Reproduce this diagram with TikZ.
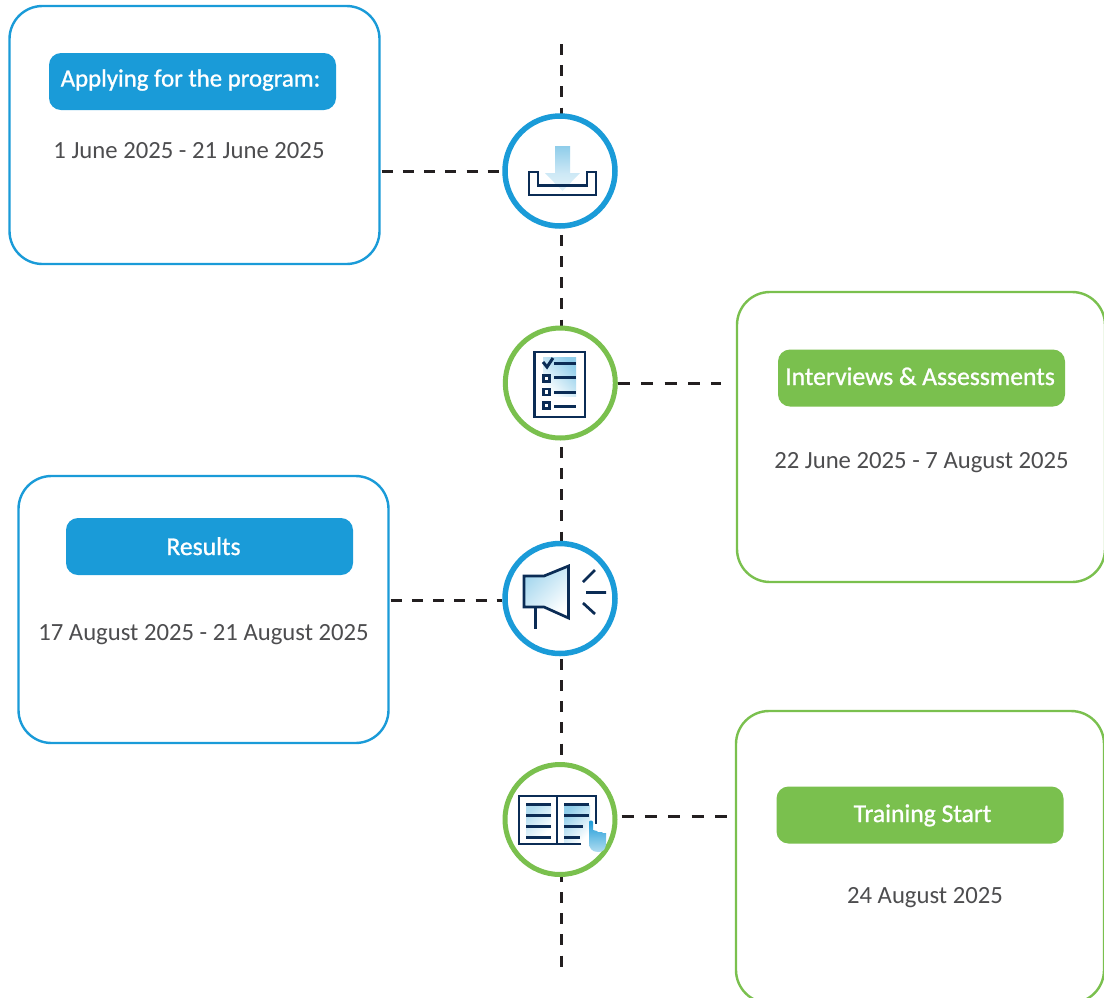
\documentclass[tikz,border=0pt]{standalone}
\usepackage{fontspec}
\setmainfont{Carlito}
\newfontfamily\pillfont[RawFeature={embolden=1.0}]{Carlito}
\usetikzlibrary{calc}
\definecolor{cblue}{HTML}{1A9BD8}
\definecolor{cgreen}{HTML}{7AC04E}
\definecolor{cnavy}{HTML}{0B2C55}
\definecolor{ctext}{HTML}{4D4D4F}
\definecolor{cdash}{HTML}{231F20}
\definecolor{cfade}{HTML}{8FCDEA}
\tikzset{
  cardb/.style={draw=cblue,line width=2.4pt,rounded corners=33pt,fill=white,inner sep=0pt},
  cardg/.style={draw=cgreen,line width=2.4pt,rounded corners=33pt,fill=white,inner sep=0pt},
  pill/.style={rounded corners=12pt,inner sep=0pt,minimum width=287pt,minimum height=57pt},
  pilltext/.style={text=white,inner sep=0pt,anchor=base,font=\fontsize{25.6}{28}\selectfont\pillfont},
  datetext/.style={text=ctext,inner sep=0pt,anchor=base,font=\fontsize{24.7}{29}\selectfont},
  ringb/.style={circle,draw=cblue,line width=5.5pt,fill=white,minimum size=110pt,inner sep=0pt},
  ringg/.style={circle,draw=cgreen,line width=5pt,fill=white,minimum size=110pt,inner sep=0pt},
  dashline/.style={draw=cdash,line width=3pt,dash pattern=on 11pt off 10.2pt},
  icon/.style={draw=cnavy,line width=2.7pt,line cap=butt,line join=miter},
}
\begin{document}
\begin{tikzpicture}[x=1pt,y=-1pt]
\useasboundingbox (0,0) rectangle (1104,997);
\clip (0,0) rectangle (1104,997);
\fill[white] (0,0) rectangle (1104,997);
% timeline
\coordinate (tltop) at (561,44);
\coordinate (tlbot) at (561,967);
\draw[dashline] (tltop) -- (tlbot);
% cards
\node[cardb,minimum width=370pt,minimum height=258pt] (c1) at (194.5,135) {};
\node[cardg,minimum width=368pt,minimum height=290pt] (c2) at (921,437) {};
\node[cardb,minimum width=370pt,minimum height=267pt] (c3) at (203.5,609.5) {};
\node[cardg,minimum width=368pt,minimum height=292pt] (c4) at (920,857) {};
% rings
\node[ringb] (r1) at (560,171) {};
\node[ringg] (r2) at (560.3,383) {};
\node[ringb] (r3) at (560,598.5) {};
\node[ringg] (r4) at (560,819.5) {};
% connectors
\draw[dashline,shorten <=1pt] (c1.east |- r1) -- (r1.west);
\draw[dashline,dash pattern=on 12pt off 11.4pt,shorten >=14.5pt] (r2.east) -- (c2.west |- r2);
\draw[dashline,shorten <=1pt] (c3.east |- 0,600) -- (r3.west |- 0,600);
\draw[dashline,dash pattern=on 12pt off 11.4pt,shorten <=4pt,shorten >=8pt] (r4.east |- 0,816) -- (c4.west |- 0,816);
% pills
\node[pill,fill=cblue] (p1) at (192.5,81.5) {};
\node[pill,fill=cgreen] (p2) at (921.5,378) {};
\node[pill,fill=cblue] (p3) at (209.5,546.5) {};
\node[pill,fill=cgreen] (p4) at (920,815) {};
\node[pilltext,font=\fontsize{24.8}{28}\selectfont\pillfont] (t1) at (190.5,86.5) {Applying for the program:};
\node[pilltext] (t2) at (920,385) {Interviews \& Assessments};
\node[pilltext] (t3) at (203.5,555) {Results};
\node[pilltext] (t4) at (922.5,822) {Training Start};
% dates
\node[datetext] (d1) at (189,158.5) {1 June 2025 - 21 June 2025};
\node[datetext] (d2) at (921.5,468.5) {22 June 2025 - 7 August 2025};
\node[datetext] (d3) at (203.5,640) {17 August 2025 - 21 August 2025};
\node[datetext] (d4) at (925,903) {24 August 2025};
% icon 1: download tray
\shade[top color=cfade,bottom color=cfade!45] (555,146) rectangle (570,173);
\shade[top color=cfade!45,bottom color=cfade!25] (545,173) -- (580,173) -- (562.5,191) -- cycle;
\draw[icon,line width=2.6pt] (529,172) -- (538,172) -- (538,185.5) -- (587,185.5) -- (587,172) -- (596,172) -- (596,195) -- (529,195) -- cycle;
% icon 2: checklist
\shade[left color=cfade,right color=white,shading angle=-45] (543,357) rectangle (576,396);
\draw[icon,line width=2.6pt] (534.5,352) rectangle (585,417);
\draw[icon,line width=3pt] (543,362) -- (547,367) -- (553,358);
\draw[icon] (554,363.5) -- (576,363.5) (554,377.5) -- (576,377.5) (554,392.5) -- (576,392.5) (554,406.5) -- (576,406.5);
\draw[icon,fill=white] (543.3,375.2) rectangle (549.7,381.5) (543.3,389) rectangle (549.7,395) (543.3,402.5) rectangle (549.7,408.8);
% icon 3: megaphone
\shade[left color=cfade!80,right color=white,shading angle=45] (524,576) -- (544,576) -- (568,566) -- (568,618) -- (544,607) -- (524,607) -- cycle;
\draw[icon] (524,576) -- (544,576) -- (568.5,566) -- (568.5,618) -- (544,607) -- (524,607) -- cycle;
\draw[icon] (535.5,607) -- (535.5,629);
\draw[icon] (583,582) -- (595,570) (586,592.5) -- (606,592.5) (583,603) -- (595,614);
% icon 4: book and hand
\shade[left color=cfade!70,right color=white,shading angle=45] (526,806) rectangle (551,836);
\shade[left color=cfade,right color=white,shading angle=45] (564,805) rectangle (590,842);
\draw[icon,line width=2.4pt] (581,844) -- (519,844) -- (519,796) -- (596,796) -- (596,824);
\draw[icon,line width=2.4pt] (557,796) -- (557,844);
\draw[icon,line width=2.2pt] (526,804.5) -- (551,804.5) (526,815.5) -- (551,815.5) (526,826.5) -- (551,826.5) (526,837.5) -- (551,837.5);
\draw[icon,line width=2.2pt] (564,804.5) -- (589,804.5) (564,815.5) -- (589,815.5) (564,826.5) -- (583,826.5) (564,837.5) -- (580,837.5);
\shade[top color=cblue,bottom color=cfade!70] (589,822) .. controls (589,820) and (593,820) .. (593,822) -- (593,830) -- (597,831) -- (598,832) -- (602,832) -- (603,833) -- (606,833) -- (606,842) .. controls (606,850) and (603,852) .. (598,852) .. controls (592,852) and (589,848) .. (589,843) -- cycle;
\end{tikzpicture}
\end{document}
